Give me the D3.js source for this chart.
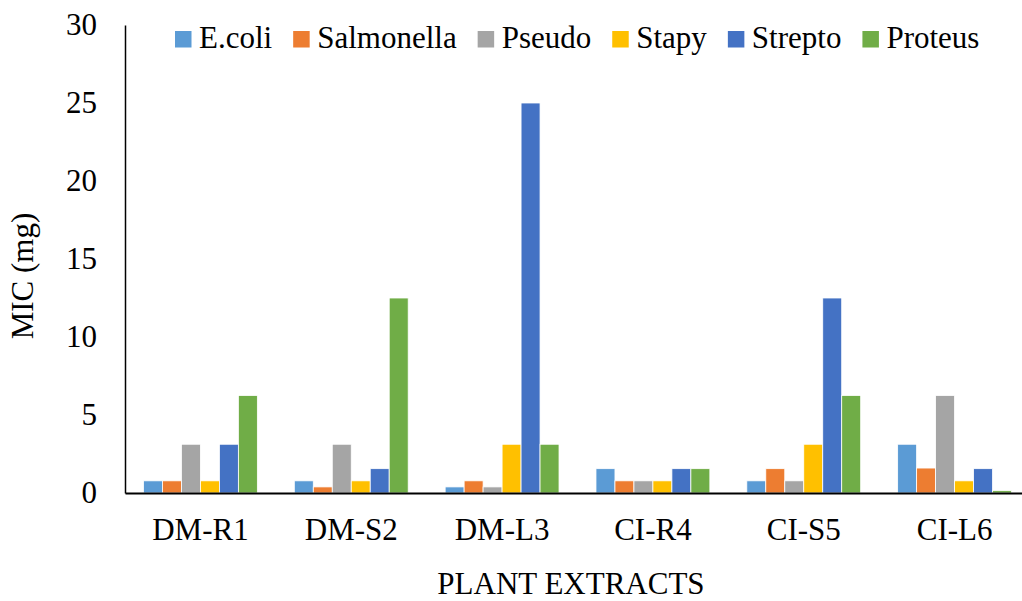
<!DOCTYPE html>
<html>
<head>
<meta charset="utf-8">
<script src="https://cdn.jsdelivr.net/npm/d3@7"></script>
<style>
  body { margin: 0; background: #fff; }
  text { font-family: "Liberation Serif", "Times New Roman", serif; fill: #000; }
</style>
</head>
<body>
<div id="chart"></div>
<script>
// plant extracts along x
var extracts = ["DM-R1", "DM-S2", "DM-L3", "CI-R4", "CI-S5", "CI-L6"];
var organisms = ["E.coli", "Salmonella", "Pseudo", "Stapy", "Strepto", "Proteus"];
var colors = ["#5B9BD5", "#ED7D31", "#A5A5A5", "#FFC000", "#4472C4", "#70AD47"];

// MIC (mg), one array per organism, in extract order
var ecoli      = [0.78, 0.78, 0.39, 1.56, 0.78, 3.125];
var salmonella = [0.78, 0.39, 0.78, 0.78, 1.56, 1.6];
var pseudo     = [3.125, 3.125, 0.39, 0.78, 0.78, 6.25];
var stapy      = [0.78, 0.78, 3.125, 0.78, 3.125, 0.78];
var strepto    = [3.125, 1.56, 25, 1.56, 12.5, 1.56];
var proteus    = [6.25, 12.5, 3.125, 1.56, 6.25, 0.15];

var yTicks = [0, 5, 10, 15, 20, 25, 30];

var series = [ecoli, salmonella, pseudo, stapy, strepto, proteus];

var width = 1022, height = 601;
var margin = { top: 25, left: 125, bottom: 108 };
var plotRight = 1030; // plot area runs past the right edge in the original
var fontSize = "31px";

var svg = d3.select("#chart").append("svg")
  .attr("width", width)
  .attr("height", height);

var xScale = d3.scaleBand()
  .domain(extracts)
  .range([margin.left, plotRight])
  .paddingInner(0.245)
  .paddingOuter(0.1225);

var xInner = d3.scaleBand()
  .domain(organisms)
  .range([0, xScale.bandwidth()]);

var yScale = d3.scaleLinear()
  .domain([0, 30])
  .range([height - margin.bottom, margin.top]);

// bars
var groups = svg.selectAll("g.group")
  .data(extracts)
  .enter().append("g")
  .attr("class", "group")
  .attr("transform", d => `translate(${xScale(d)},0)`);

groups.selectAll("rect")
  .data((d, i) => organisms.map((o, j) => ({ org: o, idx: j, value: series[j][i] })))
  .enter().append("rect")
  .attr("x", d => xInner(d.org))
  .attr("width", xInner.bandwidth())
  .attr("y", d => yScale(d.value))
  .attr("height", d => yScale(0) - yScale(d.value))
  .attr("fill", d => colors[d.idx])
  .attr("stroke", "#fff")
  .attr("stroke-width", 0.8);

// y axis
var yAxis = svg.append("g")
  .attr("transform", `translate(${margin.left},0)`)
  .call(d3.axisLeft(yScale).tickValues(yTicks).tickSize(0).tickPadding(28));
yAxis.select(".domain").attr("stroke", "#000").attr("stroke-width", 1.5);
yAxis.selectAll("text")
  .style("font-family", "Liberation Serif")
  .style("font-size", fontSize);

// x axis
var xAxis = svg.append("g")
  .attr("transform", `translate(0,${yScale(0)})`)
  .call(d3.axisBottom(xScale).tickSize(0).tickPadding(25));
xAxis.select(".domain").attr("stroke", "#000").attr("stroke-width", 2);
xAxis.selectAll("text")
  .style("font-family", "Liberation Serif")
  .style("font-size", fontSize);

// axis titles
svg.append("text")
  .attr("text-anchor", "middle")
  .attr("x", 571)
  .attr("y", 594)
  .style("font-size", fontSize)
  .text("PLANT EXTRACTS");

svg.append("text")
  .attr("text-anchor", "middle")
  .attr("transform", "translate(33,276) rotate(-90)")
  .style("font-size", fontSize)
  .text("MIC (mg)");

// legend
var legend = svg.append("g");
var lx = 175;
organisms.forEach(function (o, i) {
  legend.append("rect")
    .attr("x", lx).attr("y", 31)
    .attr("width", 16.5).attr("height", 16.5)
    .attr("fill", colors[i]);
  var t = legend.append("text")
    .attr("x", lx + 24).attr("y", 48)
    .style("font-size", fontSize)
    .text(o);
  lx += 24 + t.node().getComputedTextLength() + 21;
});
</script>
</body>
</html>
